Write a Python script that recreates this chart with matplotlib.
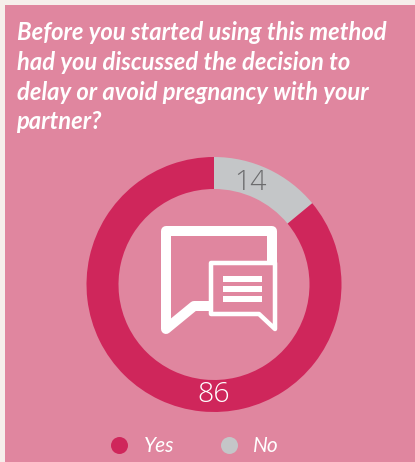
import matplotlib
matplotlib.use('Agg')
import matplotlib.pyplot as plt
import matplotlib.patches as patches

W, H = 415, 462

# Style Constants
PAGE = '#f6eeeb'
PANEL = '#e0869f'
CRIMSON = '#cf265b'
GREY = '#c4c6c8'
WHITE = '#ffffff'

title_lines = [
    "Before you started using this method",
    "had you discussed the decision to",
    "delay or avoid pregnancy with your",
    "partner?",
]
categories = ["No", "Yes"]
values = [14, 86]
colors = [GREY, CRIMSON]
label_colors = ['#6b6b6d', WHITE]
legend_labels = ["Yes", "No"]
legend_colors = [CRIMSON, GREY]


def Y(py):
    # picture coordinates have y going down
    return H - py


def px(n):
    # pixel width to points
    return n * 72 / 100


fig = plt.figure(figsize=(W / 100, H / 100), dpi=100)
fig.patch.set_facecolor(PAGE)
ax = fig.add_axes([0, 0, 1, 1])

# Panel
ax.add_patch(patches.Rectangle((5, 0), W - 5, H - 5, facecolor=PANEL, edgecolor='none', zorder=0))

# Title
for baseline, line in zip([40, 70, 99.5, 129], title_lines):
    ax.text(16.5, Y(baseline), line, family='Lato', style='italic', weight='bold',
            fontsize=17.1, color=WHITE, ha='left', va='baseline')

# Donut
cx, cy, radius = 214, 284.5, 127.5
ax.pie(values, colors=colors, center=(cx, Y(cy)), radius=radius, startangle=90,
       counterclock=False, wedgeprops=dict(width=32, linewidth=0), frame=False)

ax.text(250, Y(189.5), str(values[0]), family='Open Sans', weight='light', fontsize=20.5,
        color=label_colors[0], ha='center', va='baseline')
ax.text(214, Y(402.5), str(values[1]), family='Open Sans', weight='light', fontsize=20.5,
        color=label_colors[1], ha='center', va='baseline')

# Big speech bubble
bx = [272, 272, 166, 166, 194, 212]
by = [264, 231, 231, 329, 306, 306]
ax.plot(bx, [Y(v) for v in by], color=WHITE, lw=px(10), solid_joinstyle='round',
        solid_capstyle='butt', zorder=4)

# Small speech bubble
sx = [211, 275, 275, 259, 211, 211]
sy = [263, 263, 329, 314, 314, 263]
ax.fill(sx, [Y(v) for v in sy], facecolor=PANEL, edgecolor=WHITE, lw=px(4.5),
        joinstyle='round', zorder=5)
for top in [276, 286, 296]:
    ax.add_patch(patches.Rectangle((223, Y(top + 6)), 39, 6, facecolor=WHITE,
                                   edgecolor='none', zorder=6))

# Legend
for mx, tx, label, color in zip([119, 228.5], [144, 253], legend_labels, legend_colors):
    ax.plot([mx], [Y(444.7)], 'o', ms=px(17), color=color, mew=0)
    ax.text(tx, Y(451.5), label, family='Lato', style='italic', fontsize=15,
            color=WHITE, ha='left', va='baseline')

ax.set_xlim(0, W)
ax.set_ylim(0, H)
ax.set_aspect('auto')
ax.axis('off')

fig.savefig('out.png', dpi=100, facecolor=PAGE)
